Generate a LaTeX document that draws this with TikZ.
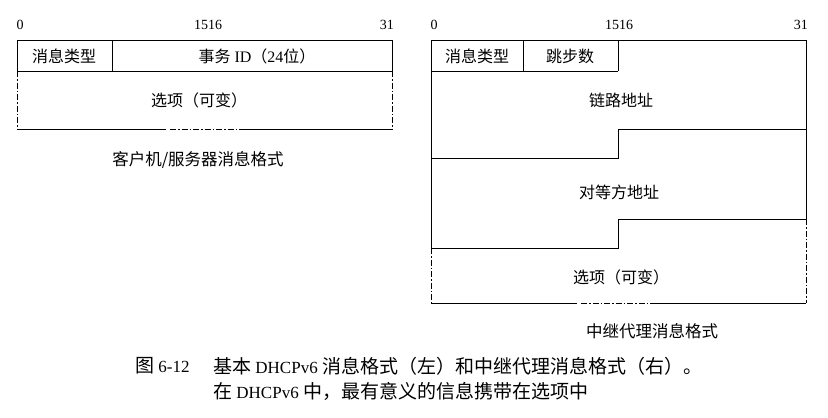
\documentclass[tikz,border=0pt]{standalone}
\usepackage{fontspec}
\setmainfont{Liberation Serif}
\newfontfamily\cjk{Noto Sans CJK SC}
\newcommand{\zh}[1]{{\cjk #1}}
\newcommand{\zhcap}[1]{{\fontsize{19}{20}\selectfont\cjk #1}}

\tikzset{
  rule/.style={line width=0.8pt},
  loose/.style={line width=0.8pt, dash pattern=on 6pt off 2pt on 1.5pt off 2pt},
  bitno/.style={inner sep=0pt, anchor=base, font=\fontsize{14}{14}\selectfont},
  field/.style={inner sep=0pt, font=\fontsize{16}{18}\selectfont},
  subcap/.style={inner sep=0pt, font=\fontsize{16.5}{18}\selectfont\cjk},
  figcap/.style={inner sep=0pt, anchor=west, font=\fontsize{17}{20}\selectfont},
}

\begin{document}
\begin{tikzpicture}[x=1pt,y=-1pt]
\useasboundingbox (0,0) rectangle (828,418);

% Bit numbers of the client/server format
\node[bitno] (lzero) at (20,29) {0};
\node[bitno] (lmid) at (208,29) {1516};
\node[bitno, anchor=base east] (lend) at (394,29) {31};

% Client/server format: first row
\draw[rule] (17,71) -- (17,40) -- (392,40) -- (392,71) -- cycle;
\draw[rule] (112,40) -- (112,71);
\node[field] (ltype) at (64,56) {\zh{消息类型}};
\node[field] (ltrans) at (257,56) {\zh{事务} ID\zh{（}24\zh{位）}};

% Client/server format: options
\draw[loose] (17,71) -- (17,129);
\draw[loose] (392,71) -- (392,129);
\draw[rule] (17,129) -- (166,129);
\draw[loose] (170,129) -- (243,129);
\draw[rule] (243,129) -- (392,129);
\node[field] (lopt) at (199,100) {\zh{选项（可变）}};

\node[subcap] (lcap) at (198,160) {客户机/服务器消息格式};

% Bit numbers of the relay agent format
\node[bitno] (rzero) at (434,29) {0};
\node[bitno] (rmid) at (619,29) {1516};
\node[bitno, anchor=base east] (rend) at (808,29) {31};

% Relay agent format: first row
\draw[rule] (431,248) -- (431,40) -- (806,40) -- (806,219);
\draw[rule] (431,71) -- (618,71);
\draw[rule] (523,40) -- (523,71);
\draw[rule] (618,40) -- (618,71);
\node[field] (rtype) at (477,56) {\zh{消息类型}};
\node[field] (rhops) at (570,56) {\zh{跳步数}};

% Relay agent format: link address
\draw[rule] (431,158) -- (618,158) -- (618,129) -- (806,129);
\node[field] (rlink) at (621,100) {\zh{链路地址}};

% Relay agent format: peer address
\draw[rule] (431,248) -- (618,248) -- (618,219) -- (806,219);
\node[field] (rpeer) at (619,192) {\zh{对等方地址}};

% Relay agent format: options
\draw[loose] (431,248) -- (431,303);
\draw[loose] (806,219) -- (806,303);
\draw[rule] (431,303) -- (577,303);
\draw[loose] (581,303) -- (656,303);
\draw[rule] (656,303) -- (806,303);
\node[field] (ropt) at (621,277) {\zh{选项（可变）}};

\node[subcap] (rcap) at (652,331) {中继代理消息格式};

% Figure caption
\node[figcap] (fignum) at (135,366) {\zhcap{图} 6-12};
\node[figcap] (capone) at (213,366) {\zhcap{基本} DHCPv6 \zhcap{消息格式（左）和中继代理消息格式（右）。}};
\node[figcap] (captwo) at (213,391) {\zhcap{在} DHCPv6 \zhcap{中，最有意义的信息携带在选项中}};
\end{tikzpicture}
\end{document}
